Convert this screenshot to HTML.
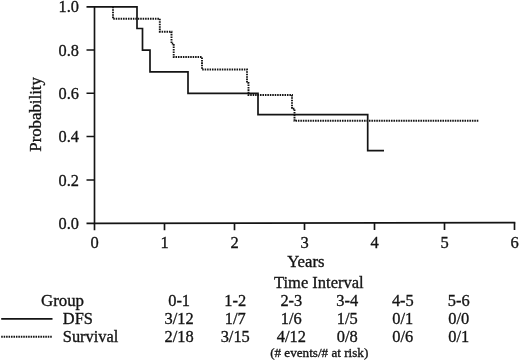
<!DOCTYPE html>
<html><head><meta charset="utf-8">
<style>
html,body{margin:0;padding:0;background:#fff;}
body{width:520px;height:361px;overflow:hidden;}
svg{display:block;filter:grayscale(1);}
text{font-family:"Liberation Serif",serif;font-size:16px;fill:#141414;stroke:#141414;stroke-width:0.32px;}
</style></head>
<body>
<svg width="520" height="361" viewBox="0 0 520 361">
<rect width="520" height="361" fill="#fff"/>
<g stroke="#141414" stroke-width="1.65" fill="none">
<path d="M94.5 6.0 V223.4 L515.3 222.6"/>
<path d="M86.5 223.4H94.5 M86.5 180.0H94.5 M86.5 136.5H94.5 M86.5 93.2H94.5 M86.5 50.0H94.5 M86.5 6.8H94.5"/>
<path d="M94.5 223.4V230.3 M164.5 223.3V230.2 M234.5 223.1V230.2 M304.5 223.0V230.1 M374.5 222.9V230.0 M444.5 222.7V230.0 M514.5 222.6V229.9"/>
</g>
<path d="M94.5 6.8 H137 V28.5 H142.5 V50.1 H150 V71.8 H188 V93.3 H258 V114.6 H367.7 V150.6 H384" stroke="#141414" stroke-width="1.7" fill="none"/>
<path d="M113 6.8 V18.8 H159.8 V31.7 H171.5 V43.6 H173.7 V57 H202 V69.5 H247 V83 H248.5 V95 H292 V108.7 H294.5 V120.8 H478.5" stroke="#141414" stroke-width="1.9" fill="none" stroke-dasharray="1.55 0.9"/>
<text transform="translate(79.0 228.9) scale(1.020 1)" text-anchor="end" style="font-size:16px">0.0</text>
<text transform="translate(79.0 185.5) scale(1.020 1)" text-anchor="end" style="font-size:16px">0.2</text>
<text transform="translate(79.0 142.0) scale(1.020 1)" text-anchor="end" style="font-size:16px">0.4</text>
<text transform="translate(79.0 98.7) scale(1.020 1)" text-anchor="end" style="font-size:16px">0.6</text>
<text transform="translate(79.0 55.5) scale(1.020 1)" text-anchor="end" style="font-size:16px">0.8</text>
<text transform="translate(79.0 12.2) scale(1.020 1)" text-anchor="end" style="font-size:16px">1.0</text>
<text transform="translate(41.3 114.4) rotate(-90) scale(1.05 1)" text-anchor="middle">Probability</text>
<text transform="translate(94.5 248.3) scale(1.030 1)" text-anchor="middle" style="font-size:16px">0</text>
<text transform="translate(164.5 248.2) scale(1.030 1)" text-anchor="middle" style="font-size:16px">1</text>
<text transform="translate(234.5 248.2) scale(1.030 1)" text-anchor="middle" style="font-size:16px">2</text>
<text transform="translate(304.5 248.2) scale(1.030 1)" text-anchor="middle" style="font-size:16px">3</text>
<text transform="translate(374.5 248.1) scale(1.030 1)" text-anchor="middle" style="font-size:16px">4</text>
<text transform="translate(444.5 248.1) scale(1.030 1)" text-anchor="middle" style="font-size:16px">5</text>
<text transform="translate(514.5 248.0) scale(1.030 1)" text-anchor="middle" style="font-size:16px">6</text>
<text transform="translate(305.8 267.4) scale(1.045 1)" text-anchor="middle">Years</text>
<text transform="translate(318.8 288.0) scale(1.030 1)" text-anchor="middle">Time Interval</text>
<text transform="translate(62.5 305.6) scale(1.055 1)" text-anchor="middle">Group</text>
<text transform="translate(179.1 305.6) scale(1.025 1)" text-anchor="middle" style="font-size:16px">0-1</text>
<text transform="translate(235.2 305.6) scale(1.025 1)" text-anchor="middle" style="font-size:16px">1-2</text>
<text transform="translate(291.3 305.6) scale(1.025 1)" text-anchor="middle" style="font-size:16px">2-3</text>
<text transform="translate(347.2 305.6) scale(1.025 1)" text-anchor="middle" style="font-size:16px">3-4</text>
<text transform="translate(402.8 305.6) scale(1.025 1)" text-anchor="middle" style="font-size:16px">4-5</text>
<text transform="translate(458.7 305.6) scale(1.025 1)" text-anchor="middle" style="font-size:16px">5-6</text>
<text transform="translate(179.1 324.4) scale(1.025 1)" text-anchor="middle" style="font-size:16px">3/12</text>
<text transform="translate(235.2 324.4) scale(1.025 1)" text-anchor="middle" style="font-size:16px">1/7</text>
<text transform="translate(291.3 324.4) scale(1.025 1)" text-anchor="middle" style="font-size:16px">1/6</text>
<text transform="translate(347.2 324.4) scale(1.025 1)" text-anchor="middle" style="font-size:16px">1/5</text>
<text transform="translate(402.8 324.4) scale(1.025 1)" text-anchor="middle" style="font-size:16px">0/1</text>
<text transform="translate(458.7 324.4) scale(1.025 1)" text-anchor="middle" style="font-size:16px">0/0</text>
<text transform="translate(179.1 341.9) scale(1.025 1)" text-anchor="middle" style="font-size:16px">2/18</text>
<text transform="translate(235.2 341.9) scale(1.025 1)" text-anchor="middle" style="font-size:16px">3/15</text>
<text transform="translate(291.3 341.9) scale(1.025 1)" text-anchor="middle" style="font-size:16px">4/12</text>
<text transform="translate(347.2 341.9) scale(1.025 1)" text-anchor="middle" style="font-size:16px">0/8</text>
<text transform="translate(402.8 341.9) scale(1.025 1)" text-anchor="middle" style="font-size:16px">0/6</text>
<text transform="translate(458.7 341.9) scale(1.025 1)" text-anchor="middle" style="font-size:16px">0/1</text>
<text transform="translate(319.2 356.8) scale(1.095 1)" text-anchor="middle" style="font-size:12px">(# events/# at risk)</text>
<text transform="translate(62.8 324.4) scale(1.025 1)" text-anchor="start">DFS</text>
<text transform="translate(62.8 341.9) scale(1.025 1)" text-anchor="start">Survival</text>
<path d="M1.2 318.8H52.5" stroke="#141414" stroke-width="1.7"/>
<path d="M1.2 336.8H52.5" stroke="#141414" stroke-width="1.9" stroke-dasharray="1.55 0.9"/>
</svg>
</body></html>
